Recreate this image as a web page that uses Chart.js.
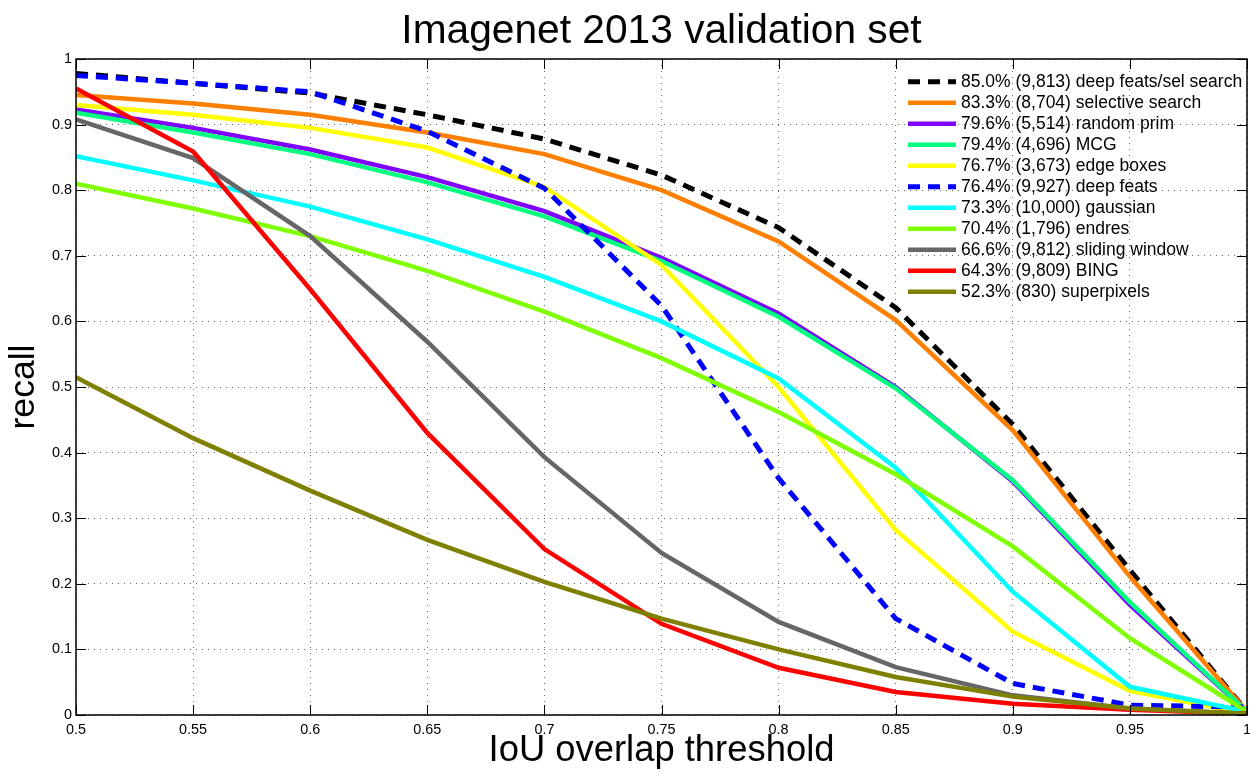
<!DOCTYPE html>
<html>
<head>
<meta charset="utf-8">
<script src="https://cdn.jsdelivr.net/npm/chart.js@4.4.1/dist/chart.umd.min.js"></script>
<style>
  html, body { margin: 0; padding: 0; background: #fff; }
</style>
</head>
<body>
<canvas id="chart" width="1250" height="773"></canvas>
<script>
// ---- data ----
const thresholds = [0.5, 0.55, 0.6, 0.65, 0.7, 0.75, 0.8, 0.85, 0.9, 0.95, 1.0];
const xTicks = [0.5, 0.55, 0.6, 0.65, 0.7, 0.75, 0.8, 0.85, 0.9, 0.95, 1.0];
const yTicks = [0, 0.1, 0.2, 0.3, 0.4, 0.5, 0.6, 0.7, 0.8, 0.9, 1.0];

const chartTitle = 'Imagenet 2013 validation set';

const seriesLabels = [
    '85.0% (9,813) deep feats/sel search',
    '83.3% (8,704) selective search',
    '79.6% (5,514) random prim',
    '79.4% (4,696) MCG',
    '76.7% (3,673) edge boxes',
    '76.4% (9,927) deep feats',
    '73.3% (10,000) gaussian',
    '70.4% (1,796) endres',
    '66.6% (9,812) sliding window',
    '64.3% (9,809) BING',
    '52.3% (830) superpixels'
];

const deepSelSearch  = [0.978, 0.963, 0.948, 0.915, 0.878, 0.823, 0.743, 0.621, 0.443, 0.221, 0.005];
const selectiveSearch = [0.945, 0.932, 0.915, 0.888, 0.855, 0.800, 0.722, 0.602, 0.434, 0.211, 0.005];
const randomPrim     = [0.923, 0.895, 0.862, 0.820, 0.768, 0.697, 0.612, 0.500, 0.356, 0.168, 0.005];
const mcg            = [0.918, 0.888, 0.855, 0.812, 0.760, 0.692, 0.607, 0.498, 0.358, 0.172, 0.005];
const edgeBoxes      = [0.930, 0.915, 0.895, 0.865, 0.805, 0.686, 0.500, 0.282, 0.127, 0.037, 0.002];
const deepFeats      = [0.975, 0.963, 0.950, 0.890, 0.803, 0.624, 0.361, 0.147, 0.048, 0.015, 0.012];
const gaussian       = [0.852, 0.815, 0.775, 0.725, 0.668, 0.600, 0.513, 0.377, 0.188, 0.043, 0.005];
const endres         = [0.810, 0.772, 0.730, 0.677, 0.615, 0.544, 0.462, 0.367, 0.257, 0.117, 0.005];
const slidingWindow  = [0.908, 0.849, 0.730, 0.569, 0.393, 0.247, 0.142, 0.073, 0.030, 0.010, 0.002];
const bing           = [0.955, 0.859, 0.649, 0.430, 0.253, 0.139, 0.072, 0.035, 0.017, 0.008, 0.002];
const superpixels    = [0.515, 0.422, 0.342, 0.267, 0.203, 0.147, 0.100, 0.058, 0.028, 0.010, 0.002];

const seriesValues = [deepSelSearch, selectiveSearch, randomPrim, mcg, edgeBoxes, deepFeats,
                      gaussian, endres, slidingWindow, bing, superpixels];
const seriesColors = ['#000000', '#ff8000', '#8000ff', '#00ff80', '#ffff00', '#0000ff',
                      '#00ffff', '#80ff00', '#666666', '#ff0000', '#808000'];
const seriesDashed = [true, false, false, false, false, true, false, false, false, false, false];

const FONT = "'Liberation Sans', Arial, Helvetica, sans-serif";

// ---- helpers ----
function fmtTick(v) {
    return String(Number(v.toFixed(2)));
}

// title centred over the axes box
const titlePlugin = {
    id: 'plotTitle',
    afterDraw(chart) {
        const { ctx, chartArea: a } = chart;
        ctx.save();
        ctx.fillStyle = '#000';
        ctx.font = '40.7px ' + FONT;
        ctx.textAlign = 'center';
        ctx.textBaseline = 'alphabetic';
        ctx.fillText(chartTitle, (a.left + a.right) / 2, 43);
        ctx.restore();
    }
};

// box around the plot with inward ticks on all four sides (matlab style)
const framePlugin = {
    id: 'frame',
    afterDatasetsDraw(chart) {
        const { ctx, chartArea: a, scales } = chart;
        const len = 10;
        ctx.save();
        ctx.strokeStyle = '#000';
        ctx.lineWidth = 1;
        ctx.beginPath();
        xTicks.forEach(v => {
            const px = Math.round(scales.x.getPixelForValue(v)) + 0.5;
            ctx.moveTo(px, a.bottom); ctx.lineTo(px, a.bottom - len);
            ctx.moveTo(px, a.top); ctx.lineTo(px, a.top + len);
        });
        yTicks.forEach(v => {
            const py = Math.round(scales.y.getPixelForValue(v)) + 0.5;
            ctx.moveTo(a.left, py); ctx.lineTo(a.left + len, py);
            ctx.moveTo(a.right, py); ctx.lineTo(a.right - len, py);
        });
        ctx.stroke();
        ctx.lineWidth = 1.5;
        ctx.strokeRect(a.left, a.top, a.right - a.left, a.bottom - a.top);
        ctx.restore();
    }
};

// legend inside plot, top right, no border
const legendPlugin = {
    id: 'insideLegend',
    afterDatasetsDraw(chart) {
        const { ctx, chartArea: a } = chart;
        const x0 = a.right - 339;
        ctx.save();
        chart.data.datasets.forEach((ds, i) => {
            const y = a.top + 22.7 + i * 21;
            ctx.strokeStyle = ds.borderColor;
            ctx.lineWidth = ds.borderWidth;
            ctx.setLineDash(ds.borderDash || []);
            ctx.beginPath();
            ctx.moveTo(x0, y);
            ctx.lineTo(x0 + 48, y);
            ctx.stroke();
            ctx.setLineDash([]);
            ctx.fillStyle = '#000';
            ctx.font = '17.5px ' + FONT;
            ctx.textBaseline = 'middle';
            ctx.fillText(ds.label, x0 + 53, y);
        });
        ctx.restore();
    }
};

const datasets = seriesValues.map((vals, i) => ({
    label: seriesLabels[i],
    data: vals.map((v, j) => ({ x: thresholds[j], y: v })),
    borderColor: seriesColors[i],
    backgroundColor: seriesColors[i],
    borderWidth: seriesDashed[i] ? 5 : 4.5,
    borderDash: seriesDashed[i] ? [12, 8] : [],
    pointRadius: 0,
    tension: 0,
    fill: false,
    order: seriesValues.length - i   // later series on top
}));

new Chart(document.getElementById('chart').getContext('2d'), {
    type: 'line',
    data: { datasets },
    plugins: [framePlugin, legendPlugin, titlePlugin],
    options: {
        responsive: false,
        animation: false,
        layout: { padding: { left: 0, right: 0, top: 59, bottom: 0 } },
        plugins: {
            legend: { display: false },
            tooltip: { enabled: false },
            title: { display: false }
        },
        scales: {
            x: {
                type: 'linear',
                min: 0.5,
                max: 1,
                afterBuildTicks: s => { s.ticks = xTicks.map(v => ({ value: v })); },
                afterFit: s => { s.height = 58; s.paddingLeft = 0; s.paddingRight = 3; },
                grid: { color: 'rgba(0,0,0,0.6)', lineWidth: 1, drawTicks: false },
                border: { display: false, dash: [1, 5] },
                ticks: {
                    color: '#000',
                    font: { family: FONT, size: 14.4 },
                    padding: 6,
                    maxRotation: 0,
                    autoSkip: false,
                    callback: v => fmtTick(v)
                },
                title: {
                    display: true,
                    text: 'IoU overlap threshold',
                    color: '#000',
                    font: { family: FONT, size: 36.4 },
                    padding: { top: 0, bottom: 0 }
                }
            },
            y: {
                type: 'linear',
                min: 0,
                max: 1,
                afterBuildTicks: s => { s.ticks = yTicks.map(v => ({ value: v })); },
                afterFit: s => { s.width = 76; },
                grid: { color: 'rgba(0,0,0,0.6)', lineWidth: 1, drawTicks: false },
                border: { display: false, dash: [1, 5] },
                ticks: {
                    color: '#000',
                    font: { family: FONT, size: 14.4 },
                    padding: 4,
                    autoSkip: false,
                    callback: v => fmtTick(v)
                },
                title: {
                    display: true,
                    text: 'recall',
                    color: '#000',
                    font: { family: FONT, size: 35.6 },
                    padding: { top: 3, bottom: 0 }
                }
            }
        }
    }
});
</script>
</body>
</html>
